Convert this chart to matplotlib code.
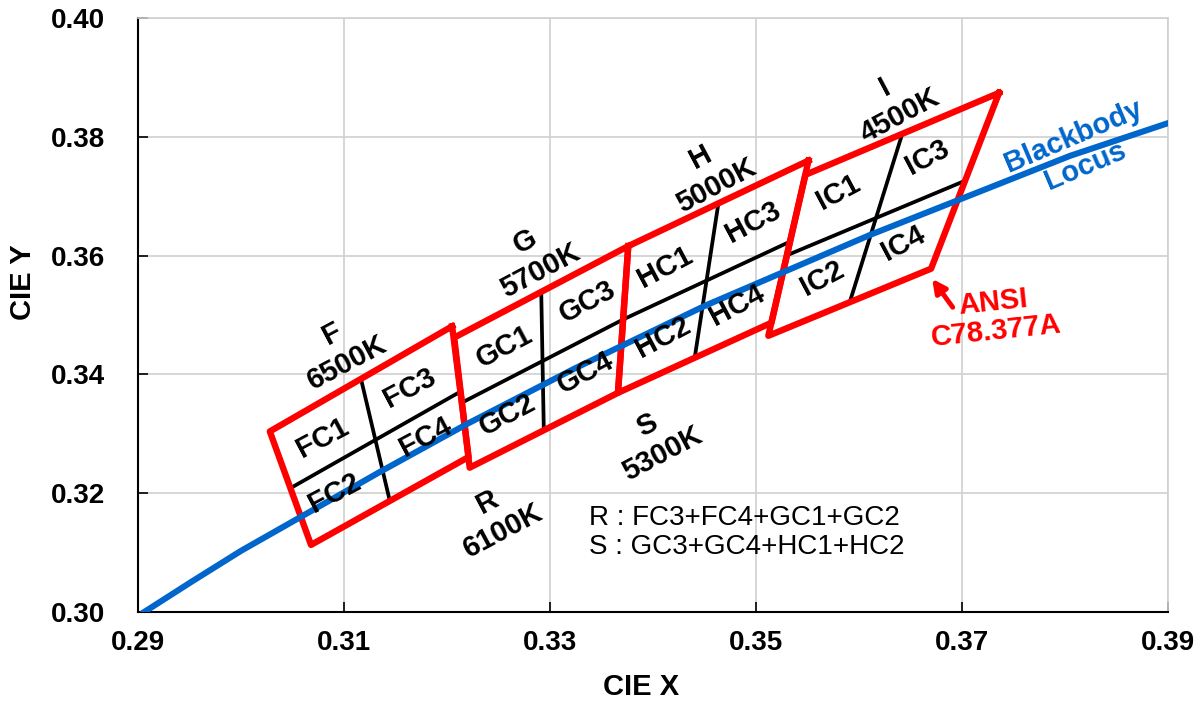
import numpy as np
import matplotlib.pyplot as plt

plt.rcParams['font.family'] = ['Liberation Sans', 'DejaVu Sans']

# ANSI C78.377A quadrangles, corners: top-right, top-left, bottom-left, bottom-right
bins = ['F', 'G', 'H', 'I']
cct = ['6500K', '5700K', '5000K', '4500K']
quad_x = [[0.3205, 0.3028, 0.3068, 0.3221],
          [0.3376, 0.3207, 0.3222, 0.3366],
          [0.3551, 0.3376, 0.3366, 0.3515],
          [0.3736, 0.3548, 0.3512, 0.3670]]
quad_y = [[0.3481, 0.3304, 0.3113, 0.3261],
          [0.3616, 0.3462, 0.3243, 0.3369],
          [0.3760, 0.3616, 0.3369, 0.3487],
          [0.3874, 0.3736, 0.3465, 0.3578]]

# sub bins (C1..C4)
sub_names = ['FC1', 'FC3', 'FC2', 'FC4', 'GC1', 'GC3', 'GC2', 'GC4',
             'HC1', 'HC3', 'HC2', 'HC4', 'IC1', 'IC3', 'IC2', 'IC4']

# combined bins
combo = ['R', 'S']
combo_cct = ['6100K', '5300K']
combo_def = ['FC3+FC4+GC1+GC2', 'GC3+GC4+HC1+HC2']

# blackbody locus
bb_x = [0.2906, 0.2952, 0.3000, 0.3064, 0.3135, 0.3221, 0.3324, 0.3451, 0.3611, 0.3805, 0.3900]
bb_y = [0.3000, 0.3051, 0.3103, 0.3166, 0.3236, 0.3318, 0.3410, 0.3516, 0.3635, 0.3768, 0.3823]

# label positions
bin_lbl_pos = [(0.3096, 0.3444), (0.3283, 0.3599), (0.3454, 0.3742), (0.3632, 0.3859)]
sub_lbl_pos = [(0.3079, 0.3293), (0.3164, 0.3377), (0.3091, 0.3200), (0.3179, 0.3295),
               (0.3256, 0.3446), (0.3336, 0.3522), (0.3259, 0.3332), (0.3334, 0.3402),
               (0.3412, 0.3581), (0.3497, 0.3657), (0.3410, 0.3463), (0.3482, 0.3517),
               (0.3580, 0.3707), (0.3666, 0.3766), (0.3564, 0.3562), (0.3643, 0.3621)]
combo_lbl_pos = [(0.3247, 0.3161), (0.3402, 0.3290)]

red = '#FF0000'
blue = '#0066CC'

fig = plt.figure(figsize=(12.03, 7.03), dpi=100)
ax = fig.add_axes([0.1147, 0.1294, 0.9709 - 0.1147, 0.9744 - 0.1294])

for i in range(len(bins)):
    qx = np.array(quad_x[i])
    qy = np.array(quad_y[i])
    # lineas que dividen el cuadrangulo en 4
    vx = [(qx[0] + qx[1]) / 2, (qx[2] + qx[3]) / 2]
    vy = [(qy[0] + qy[1]) / 2, (qy[2] + qy[3]) / 2]
    hx = [(qx[1] + qx[2]) / 2, (qx[0] + qx[3]) / 2]
    hy = [(qy[1] + qy[2]) / 2, (qy[0] + qy[3]) / 2]
    ax.plot(vx, vy, color='black', lw=2.7, zorder=3)
    ax.plot(hx, hy, color='black', lw=2.7, zorder=3)
    ax.plot(np.append(qx, qx[0]), np.append(qy, qy[0]), color=red, lw=4.6,
            solid_joinstyle='round', zorder=4)
    ax.text(bin_lbl_pos[i][0], bin_lbl_pos[i][1], bins[i] + '\n' + cct[i],
            rotation=28, ha='center', va='center', multialignment='center',
            fontsize=21, fontweight='bold', linespacing=1.2, zorder=6)

ax.plot(bb_x, bb_y, color=blue, lw=4.4, zorder=5)

for name, (tx, ty) in zip(sub_names, sub_lbl_pos):
    ax.text(tx, ty, name, rotation=28, ha='center', va='center',
            fontsize=21, fontweight='bold', zorder=6)

for i in range(len(combo)):
    ax.text(combo_lbl_pos[i][0], combo_lbl_pos[i][1], combo[i] + '\n' + combo_cct[i],
            rotation=28, ha='center', va='center', multialignment='center',
            fontsize=21, fontweight='bold', linespacing=1.2, zorder=6)

ax.text(0.3491, 0.3134, '\n'.join(c + ' : ' + d for c, d in zip(combo, combo_def)),
        ha='center', va='center', multialignment='left', fontsize=20,
        linespacing=1.15, zorder=6)

ax.text(0.3814, 0.3776, 'Blackbody\nLocus', rotation=23, ha='center', va='center',
        multialignment='center', color=blue, fontsize=21, fontweight='bold',
        linespacing=1.2, zorder=6)

ax.annotate('', xy=(0.3671, 0.3561), xytext=(0.3691, 0.3513),
            arrowprops=dict(arrowstyle='-|>', color=red, lw=3.5, mutation_scale=20,
                            shrinkA=0, shrinkB=0), zorder=6)
ax.text(0.3732, 0.3497, 'ANSI\nC78.377A', rotation=6, ha='center', va='center',
        multialignment='center', color=red, fontsize=21, fontweight='bold',
        linespacing=1.0, zorder=6)

ax.set_xlim(0.29, 0.39)
ax.set_ylim(0.30, 0.40)
ax.set_xticks(np.arange(0.29, 0.3901, 0.02))
ax.set_yticks(np.arange(0.30, 0.4001, 0.02))
ax.set_xticklabels(['%.2f' % v for v in np.arange(0.29, 0.3901, 0.02)])
ax.set_yticklabels(['%.2f' % v for v in np.arange(0.30, 0.4001, 0.02)])
ax.grid(True, color='#d0d0d0', lw=1.2)
ax.set_axisbelow(True)
ax.tick_params(direction='in', length=7, width=1.2, labelsize=20, colors='black')
ax.tick_params(axis='x', pad=13)
ax.tick_params(axis='y', pad=24)
for lbl in ax.get_xticklabels() + ax.get_yticklabels():
    lbl.set_fontweight('bold')
for s in ['top', 'right']:
    ax.spines[s].set_color('#d0d0d0')
    ax.spines[s].set_linewidth(1.2)
for s in ['left', 'bottom']:
    ax.spines[s].set_linewidth(1.5)

ax.set_xlabel('CIE X', fontsize=21, fontweight='bold')
ax.set_ylabel('CIE Y', fontsize=21, fontweight='bold')
ax.xaxis.set_label_coords(0.488, -0.103)
ax.yaxis.set_label_coords(-0.098, 0.556)

fig.savefig('out.png', dpi=100)
